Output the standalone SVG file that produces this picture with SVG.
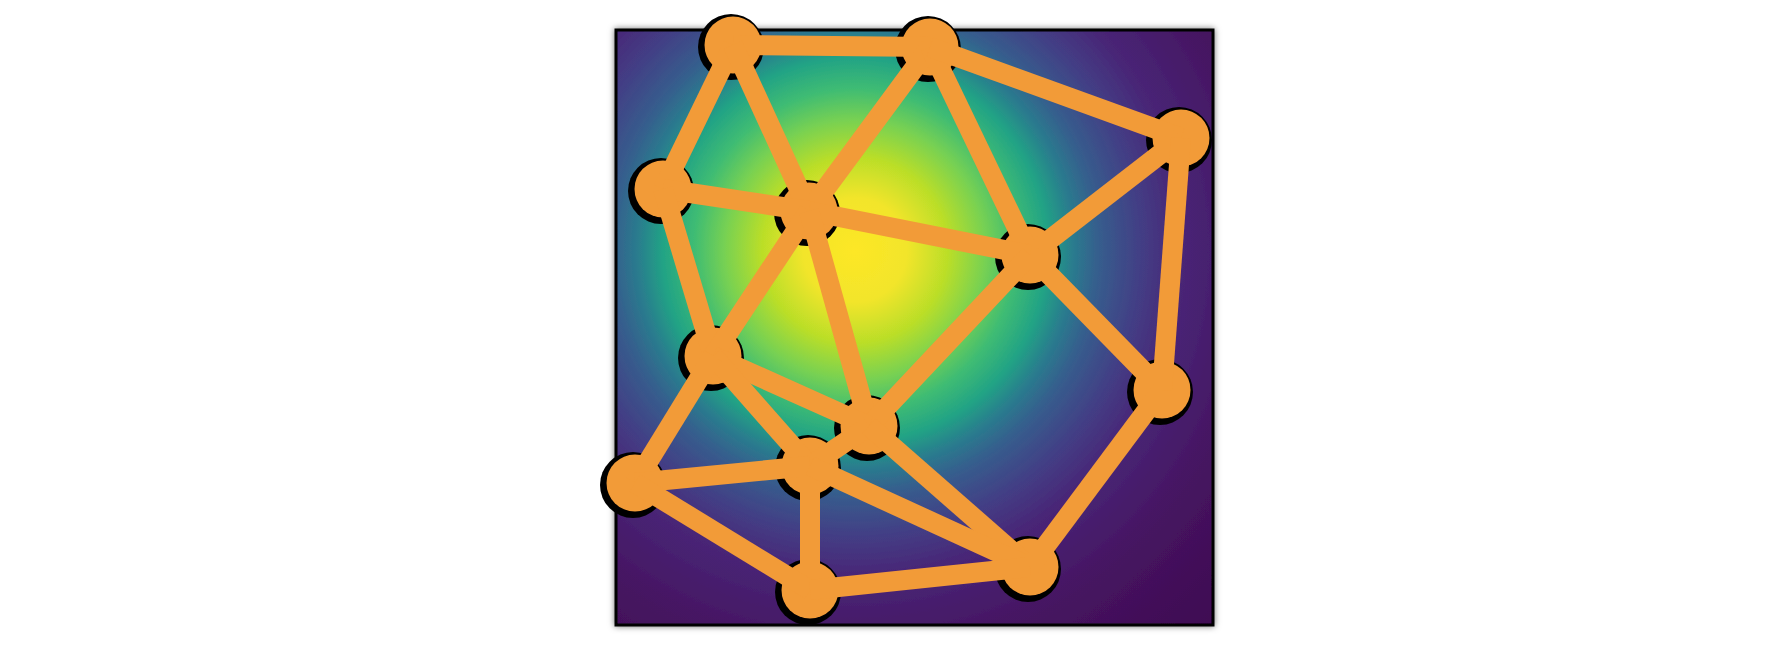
<svg xmlns="http://www.w3.org/2000/svg" width="1768" height="660" viewBox="0 0 1768 660">
  <defs>
    <radialGradient id="field" gradientUnits="userSpaceOnUse" cx="855" cy="250" r="520">
      <stop offset="0" stop-color="#fde725"/>
      <stop offset="0.1" stop-color="#f2e52b"/>
      <stop offset="0.18" stop-color="#bade28"/>
      <stop offset="0.25" stop-color="#78d152"/>
      <stop offset="0.31" stop-color="#3fbc73"/>
      <stop offset="0.37" stop-color="#22a385"/>
      <stop offset="0.42" stop-color="#2a7b8e"/>
      <stop offset="0.47" stop-color="#365d8d"/>
      <stop offset="0.55" stop-color="#433e85"/>
      <stop offset="0.63" stop-color="#482576"/>
      <stop offset="0.8" stop-color="#45135f"/>
      <stop offset="1" stop-color="#3f0b52"/>
    </radialGradient>
    <filter id="frameShadow" x="-5%" y="-5%" width="110%" height="110%">
      <feDropShadow dx="0" dy="0" stdDeviation="3" flood-color="#000" flood-opacity="0.55"/>
    </filter>
  </defs>
  <style>
    .frame { fill: url(#field); stroke: #000; stroke-width: 3px; }
    .ring { fill: #000; }
    .node { fill: #f29b38; }
    .edge { stroke: #f29b38; stroke-width: 20px; stroke-linecap: butt; fill: none; }
  </style>
  <rect width="1768" height="660" fill="#ffffff"/>
  <rect id="frame" class="frame" x="616" y="30" width="597" height="595" filter="url(#frameShadow)"/>

  <g id="nodes">
    <g id="n1"><circle class="ring" cx="731" cy="47" r="33"/><circle class="node" cx="733" cy="45" r="28.5"/></g>
    <g id="n2"><circle class="ring" cx="928" cy="49" r="33"/><circle class="node" cx="930" cy="47" r="28.5"/></g>
    <g id="n3"><circle class="ring" cx="1179" cy="140" r="33"/><circle class="node" cx="1181" cy="138" r="28.5"/></g>
    <g id="n4"><circle class="ring" cx="661" cy="191" r="33"/><circle class="node" cx="663" cy="189" r="28.5"/></g>
    <g id="n5"><circle class="ring" cx="807" cy="213" r="33"/><circle class="node" cx="809" cy="211" r="28.5"/></g>
    <g id="n6"><circle class="ring" cx="1028" cy="257" r="33"/><circle class="node" cx="1030" cy="255" r="28.5"/></g>
    <g id="n7"><circle class="ring" cx="711" cy="358" r="33"/><circle class="node" cx="713" cy="356" r="28.5"/></g>
    <g id="n8"><circle class="ring" cx="1160" cy="392" r="33"/><circle class="node" cx="1162" cy="390" r="28.5"/></g>
    <g id="n9"><circle class="ring" cx="867" cy="428" r="33"/><circle class="node" cx="869" cy="426" r="28.5"/></g>
    <g id="n10"><circle class="ring" cx="808" cy="468" r="33"/><circle class="node" cx="810" cy="466" r="28.5"/></g>
    <g id="n11"><circle class="ring" cx="633" cy="485" r="33"/><circle class="node" cx="635" cy="483" r="28.5"/></g>
    <g id="n12"><circle class="ring" cx="808" cy="592" r="33"/><circle class="node" cx="810" cy="590" r="28.5"/></g>
    <g id="n13"><circle class="ring" cx="1028" cy="569" r="33"/><circle class="node" cx="1030" cy="567" r="28.5"/></g>
  </g>

  <g id="connectors">
    <line class="edge" x1="733" y1="45" x2="930" y2="47"/>
    <line class="edge" x1="733" y1="45" x2="663" y2="189"/>
    <line class="edge" x1="733" y1="45" x2="809" y2="211"/>
    <line class="edge" x1="930" y1="47" x2="809" y2="211"/>
    <line class="edge" x1="930" y1="47" x2="1030" y2="255"/>
    <line class="edge" x1="930" y1="47" x2="1181" y2="138"/>
    <line class="edge" x1="1181" y1="138" x2="1030" y2="255"/>
    <line class="edge" x1="1181" y1="138" x2="1162" y2="390"/>
    <line class="edge" x1="663" y1="189" x2="809" y2="211"/>
    <line class="edge" x1="663" y1="189" x2="713" y2="356"/>
    <line class="edge" x1="809" y1="211" x2="1030" y2="255"/>
    <line class="edge" x1="809" y1="211" x2="713" y2="356"/>
    <line class="edge" x1="809" y1="211" x2="869" y2="426"/>
    <line class="edge" x1="1030" y1="255" x2="869" y2="426"/>
    <line class="edge" x1="1030" y1="255" x2="1162" y2="390"/>
    <line class="edge" x1="713" y1="356" x2="869" y2="426"/>
    <line class="edge" x1="713" y1="356" x2="810" y2="466"/>
    <line class="edge" x1="713" y1="356" x2="635" y2="483"/>
    <line class="edge" x1="869" y1="426" x2="810" y2="466"/>
    <line class="edge" x1="869" y1="426" x2="1030" y2="567"/>
    <line class="edge" x1="810" y1="466" x2="635" y2="483"/>
    <line class="edge" x1="810" y1="466" x2="810" y2="590"/>
    <line class="edge" x1="810" y1="466" x2="1030" y2="567"/>
    <line class="edge" x1="635" y1="483" x2="810" y2="590"/>
    <line class="edge" x1="810" y1="590" x2="1030" y2="567"/>
    <line class="edge" x1="1162" y1="390" x2="1030" y2="567"/>
  </g>
</svg>
